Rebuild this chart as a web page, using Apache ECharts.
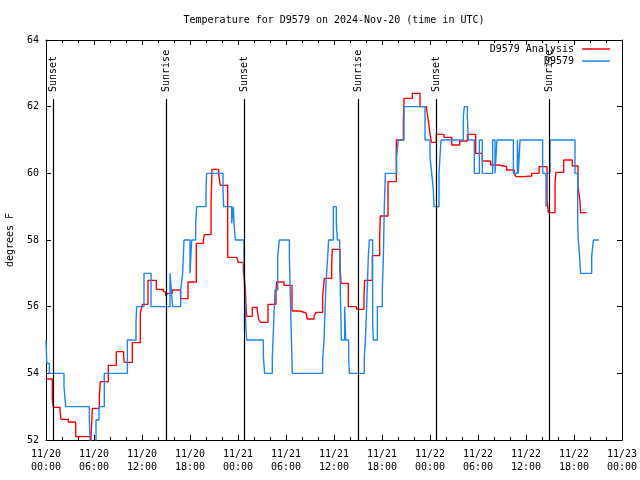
<!DOCTYPE html>
<html>
<head>
<meta charset="utf-8">
<script src="https://cdn.jsdelivr.net/npm/echarts@6/dist/echarts.min.js"></script>
<style>
html,body{margin:0;padding:0;background:#fff;}
#chart{width:640px;height:480px;}
</style>
</head>
<body>
<div id="chart"></div>
<script>
// hours since 2024-11-20 00:00 UTC
const analysisHours = [0,0.79,0.92,1.75,1.875,2.79,3.71,5.58,5.79,6.67,6.79,7.79,8.79,9.71,9.79,10.79,11.79,12.04,12.75,13.79,14.67,14.96,15.21,15.79,16.83,17.75,18.79,19.67,19.79,20.63,20.75,21.58,21.79,22.71,23.83,24.04,24.67,24.92,25.0,25.08,25.79,26.4,26.58,26.83,27.75,28.75,28.83,29.75,30.75,31.75,32.5,32.67,33.5,33.75,34.58,34.79,35.71,35.79,36.75,36.875,37.79,38.83,39.75,39.83,40.79,41.71,41.79,42.75,43.79,44.67,44.75,45.79,46.75,47.58,47.79,48.0,48.17,48.79,49.75,50.71,51.71,52.67,53.71,54.54,55.58,56.63,57.58,58.54,58.75,59.67,60.71,61.63,62.63,62.79,63.63,63.75,64.71,65.79,66.5,66.75,66.83,67.58];
const analysisTemps = [53.83,53.22,52.98,52.9,52.62,52.54,52.1,51.8,52.95,53.34,53.75,54.24,54.65,54.5,54.33,54.92,55.8,56.07,56.79,56.52,56.45,56.33,56.4,56.5,56.24,56.74,57.9,58.0,58.16,59.1,60.12,59.98,59.64,57.48,57.42,57.33,57.1,56.52,56.0,55.71,55.98,55.9,55.62,55.53,56.07,56.44,56.74,56.64,55.87,55.81,55.75,55.63,55.72,55.83,56.3,56.85,57.3,57.72,57.2,56.7,56.0,55.92,56.3,56.79,57.53,58.1,58.72,59.75,61.0,61.6,62.25,62.4,62.0,61.9,61.6,61.2,60.93,61.17,61.08,60.85,60.97,61.17,60.6,60.37,60.25,60.2,60.1,60.0,59.9,59.92,60.0,60.2,59.2,58.82,59.73,60.03,60.4,60.22,59.6,59.15,58.82,58.82];

const obsHours = [0,0.1,0.42,2.25,2.46,5.42,5.58,6.25,6.625,7.29,10.17,11.25,11.33,12.25,13.125,15.5,15.67,15.83,16.83,17.08,17.25,18.0,18.21,18.71,18.83,20.0,20.08,22.125,22.21,23.21,23.42,23.5,23.67,24.75,24.83,24.96,25.08,27.17,27.33,28.29,28.42,28.625,28.96,29.17,30.42,30.625,30.79,34.58,34.75,35.0,35.21,35.33,35.92,36.29,36.42,36.71,36.92,37.33,37.46,37.83,37.92,39.79,39.92,40.08,40.29,40.42,40.83,40.92,41.42,42.04,42.17,42.29,42.42,43.83,44.04,44.75,47.375,48.0,48.21,48.42,48.5,49.125,49.375,52.17,52.29,52.67,52.79,53.54,54.17,54.54,55.83,56.125,56.375,58.42,58.92,59.04,59.25,62.08,62.5,62.58,63.0,66.125,66.46,66.54,66.67,66.83,68.21,68.42,69.125];
const obsTemps = [55.0,54.3,54.0,53.6,53.0,52.6,51.5,52.6,53.0,54.0,55.0,55.5,56.0,57.0,56.0,57.0,56.5,56.0,56.5,57.0,58.0,57.0,58.0,58.5,59.0,59.5,60.0,59.5,59.0,58.5,59.0,58.5,58.0,57.5,56.5,55.5,55.0,54.5,54.0,54.5,55.25,56.5,57.5,58.0,57.5,55.5,54.0,54.4,55.0,56.7,57.5,58.0,59.0,58.5,58.0,57.5,55.0,56.0,55.0,54.5,54.0,54.5,55.0,56.0,57.5,58.0,55.5,55.0,56.0,56.5,57.5,59.0,60.0,60.5,61.0,62.0,61.0,60.5,60.0,59.5,59.0,60.0,61.0,61.7,62.0,61.7,61.0,60.0,61.0,60.0,61.0,60.0,61.0,60.0,61.0,60.0,61.0,60.0,59.0,60.0,61.0,60.0,58.5,58.0,57.6,57.0,57.5,58.0,58.0];

const eventHours = [0.92,15.04,24.8,39.04,48.8,62.9];
const eventNames = ['Sunset','Sunrise','Sunset','Sunrise','Sunset','Sunrise'];
const eventLineTop = 62.23;
const eventLabelAt = 62.44;

const xTickStep = 6;
const yTicks = [52,54,56,58,60,62,64];

const FONT = 'DejaVu Sans Mono';
const pair = (xs, ys) => xs.map((x, i) => [x, ys[i]]);
const pad2 = n => (n < 10 ? '0' : '') + n;
const fmtX = v => {
  const d = 20 + Math.floor(v / 24);
  const h = Math.round(v % 24);
  return '11/' + pad2(d) + '\n' + pad2(h) + ':00';
};

const chart = echarts.init(document.getElementById('chart'), null, {renderer: 'canvas'});
const baseX = {
  type: 'value', min: 0, max: 72, interval: xTickStep,
  axisLine: {show: true, onZero: false, lineStyle: {color: '#000', width: 1}},
  axisTick: {show: true, inside: true, length: 5, lineStyle: {color: '#000'}},
  minorTick: {show: true, splitNumber: 3, length: 3, lineStyle: {color: '#000'}},
  splitLine: {show: false}
};
const baseY = {
  type: 'value', min: yTicks[0], max: yTicks[yTicks.length - 1], interval: 2,
  axisLine: {show: true, onZero: false, lineStyle: {color: '#000', width: 1}},
  axisTick: {show: true, inside: true, length: 5, lineStyle: {color: '#000'}},
  splitLine: {show: false}
};
const legendText = {color: '#000', fontFamily: FONT, fontSize: 10, padding: [0, 3, 0, 0]};

chart.setOption({
  animation: false,
  backgroundColor: '#fff',
  title: {
    text: 'Temperature for D9579 on 2024-Nov-20 (time in UTC)',
    left: 334, top: 15, padding: 0, textAlign: 'center',
    textStyle: {color: '#000', fontFamily: FONT, fontSize: 10, fontWeight: 'normal'}
  },
  legend: [
    {data: ['D9579 Analysis'], right: 30, top: 44, padding: 0, align: 'right', orient: 'vertical',
     icon: 'rect', itemWidth: 28, itemHeight: 1.5, textStyle: legendText, selectedMode: false},
    {data: ['D9579'], right: 30, top: 56, padding: 0, align: 'right', orient: 'vertical',
     icon: 'rect', itemWidth: 28, itemHeight: 1.5, textStyle: legendText, selectedMode: false}
  ],
  grid: {left: 46, right: 18, top: 40, bottom: 40, containLabel: false, outerBoundsMode: 'none'},
  xAxis: [
    Object.assign({}, baseX, {position: 'bottom',
      axisLabel: {show: true, formatter: fmtX, color: '#000', fontFamily: FONT, fontSize: 10, lineHeight: 13, margin: 8}}),
    Object.assign({}, baseX, {position: 'top', axisLabel: {show: false}})
  ],
  yAxis: [
    Object.assign({}, baseY, {position: 'left',
      name: 'degrees F', nameLocation: 'middle', nameRotate: 90, nameGap: 31,
      nameTextStyle: {color: '#000', fontFamily: FONT, fontSize: 10},
      axisLabel: {show: true, color: '#000', fontFamily: FONT, fontSize: 10, margin: 7}}),
    Object.assign({}, baseY, {position: 'right', axisLabel: {show: false}})
  ],
  series: [
    {name: 'D9579 Analysis', type: 'line', step: 'end', symbol: 'none',
     data: pair(analysisHours, analysisTemps),
     lineStyle: {color: '#ff0000', width: 1.4}, itemStyle: {color: '#ff0000'}},
    {name: 'D9579', type: 'line', step: 'end', symbol: 'none',
     data: pair(obsHours, obsTemps),
     lineStyle: {color: '#1c86ee', width: 1.4}, itemStyle: {color: '#1c86ee'}},
    {name: 'events', type: 'scatter', symbol: 'rect', symbolSize: 0.01, silent: true,
     itemStyle: {color: '#000', opacity: 1},
     data: eventHours.map((h, i) => ({value: [h, eventLabelAt], name: eventNames[i]})),
     label: {show: true, formatter: p => p.name, position: [0, 0], rotate: 90,
             align: 'left', verticalAlign: 'middle', opacity: 1,
             color: '#000', fontFamily: FONT, fontSize: 10},
     emphasis: {disabled: true},
     markLine: {silent: true, symbol: ['none', 'none'], label: {show: false},
       lineStyle: {color: '#000', width: 1.2, type: 'solid', opacity: 1},
       emphasis: {disabled: true},
       data: eventHours.map(h => [{coord: [h, yTicks[0]]}, {coord: [h, eventLineTop]}])}
    }
  ]
});
</script>
</body>
</html>
